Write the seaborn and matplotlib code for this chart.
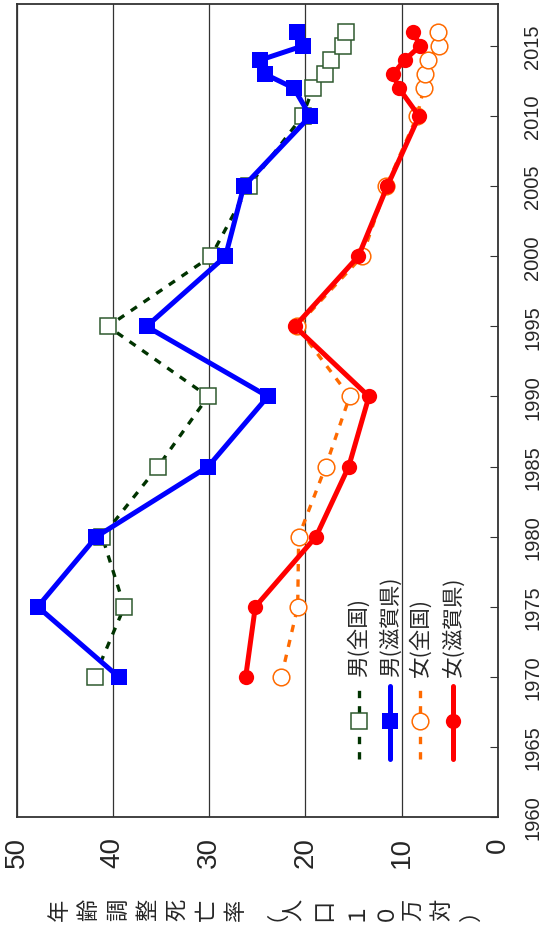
import seaborn as sns
import matplotlib.pyplot as plt
import pandas as pd
from matplotlib.lines import Line2D
from matplotlib import font_manager

sns.set_style("white")
plt.rcParams['font.family'] = ['Liberation Sans', 'Noto Sans CJK JP', 'DejaVu Sans']

# data (rate per 100k, age-adjusted)
years = [1970, 1975, 1980, 1985, 1990, 1995, 2000, 2005, 2010, 2012, 2013, 2014, 2015, 2016]
male_nat = [41.9, 38.8, 41.1, 35.3, 30.1, 40.5, 29.8, 25.9, 20.3, 19.2, 18.0, 17.3, 16.1, 15.8]
male_shiga = [39.4, 47.8, 41.7, 30.1, 23.9, 36.5, 28.3, 26.4, 19.5, 21.2, 24.2, 24.7, 20.3, 20.9]
female_nat = [22.5, 20.8, 20.7, 17.9, 15.4, 20.9, 14.1, 11.6, 8.4, 7.7, 7.6, 7.3, 6.1, 6.2]
female_shiga = [26.2, 25.2, 18.9, 15.5, 13.4, 21.1, 14.5, 11.5, 8.2, 10.3, 10.9, 9.7, 8.1, 8.8]

labels = ["男(全国)", "男(滋賀県)", "女(全国)", "女(滋賀県)"]
year_ticks = list(range(1960, 2016, 5))
rate_ticks = [0, 10, 20, 30, 40, 50]
ylabel = "年齢調整死亡率（人口１０万対）"

df = pd.DataFrame({"year": years, labels[0]: male_nat, labels[1]: male_shiga,
                   labels[2]: female_nat, labels[3]: female_shiga})

styles = {
    labels[0]: dict(color="#003300", lw=2.4, ls=(0, (2.2, 2.4)), marker="s", ms=12,
                    mfc="white", mec="#2f5a2f", mew=1.1),
    labels[1]: dict(color="#0000ff", lw=3.6, ls="-", marker="s", ms=11.5,
                    mfc="#0000ff", mec="#0000ff", mew=0),
    labels[2]: dict(color="#ff6a00", lw=2.4, ls=(0, (2.2, 2.4)), marker="o", ms=12,
                    mfc="white", mec="#ff6a00", mew=1.1),
    labels[3]: dict(color="#ff0000", lw=3.6, ls="-", marker="o", ms=11,
                    mfc="#ff0000", mec="#ff0000", mew=0),
}

# narrow face for the numbers if it is there
installed = {f.name for f in font_manager.fontManager.ttflist}
narrow = "Liberation Sans Narrow" if "Liberation Sans Narrow" in installed else "Liberation Sans"

fig = plt.figure(figsize=(5.41, 9.28), dpi=100)
ax = fig.add_axes([16.5 / 541, (928 - 818) / 928, 481.5 / 541, 813 / 928])

for name in labels:
    s = styles[name]
    sns.lineplot(data=df, x=name, y="year", orient="y", sort=False, errorbar=None, ax=ax,
                 color=s["color"], linewidth=s["lw"], linestyle=s["ls"], marker=s["marker"],
                 markersize=s["ms"], markerfacecolor=s["mfc"], markeredgecolor=s["mec"],
                 markeredgewidth=s["mew"])

ax.set_xlim(50, 0)
ax.set_ylim(1960, 2018)
ax.set_xlabel("")
ax.set_ylabel("")
ax.set_xticks(rate_ticks)
ax.grid(axis="x", color="#333333", lw=0.9)
ax.grid(axis="y", visible=False)
for sp in ax.spines.values():
    sp.set_color("#333333")
    sp.set_linewidth(1.3)

ax.tick_params(axis="x", length=0, pad=14, labelsize=20, labelrotation=90)
for lbl in ax.get_xticklabels():
    lbl.set_family([narrow, "DejaVu Sans"])
ax.yaxis.tick_right()
ax.set_yticks(year_ticks)
ax.tick_params(axis="y", direction="in", length=6, pad=18, labelsize=14.5, color="#333333")
for lbl in ax.get_yticklabels():
    lbl.set_rotation(90)
    lbl.set_va("center")
    lbl.set_family([narrow, "DejaVu Sans"])

# hand-built legend, rotated like the rest of the chart
leg_x = [0.7106, 0.7765, 0.8389, 0.9069]
for name, lx in zip(labels, leg_x):
    s = styles[name]
    ax.add_line(Line2D([lx, lx], [0.0713, 0.1611], transform=ax.transAxes,
                       color=s["color"], lw=s["lw"], ls=s["ls"]))
    ax.add_line(Line2D([lx], [0.1181], transform=ax.transAxes, marker=s["marker"],
                       ms=s["ms"], mfc=s["mfc"], mec=s["mec"], mew=s["mew"], ls="none"))
    ax.text(lx, 0.1734, name, rotation=90, ha="center", va="bottom", fontsize=15.5,
            transform=ax.transAxes, family=["Noto Sans CJK JP", "DejaVu Sans"])

# axis title: one rotated character after another
for i, ch in enumerate(ylabel):
    fig.text((59.5 + i * 29.4) / 541, 1 - 910 / 928, ch, rotation=90, ha="center",
             va="center", fontsize=16, family=["Noto Sans CJK JP", "DejaVu Sans"])

fig.savefig("out.png", dpi=100)
plt.close(fig)
